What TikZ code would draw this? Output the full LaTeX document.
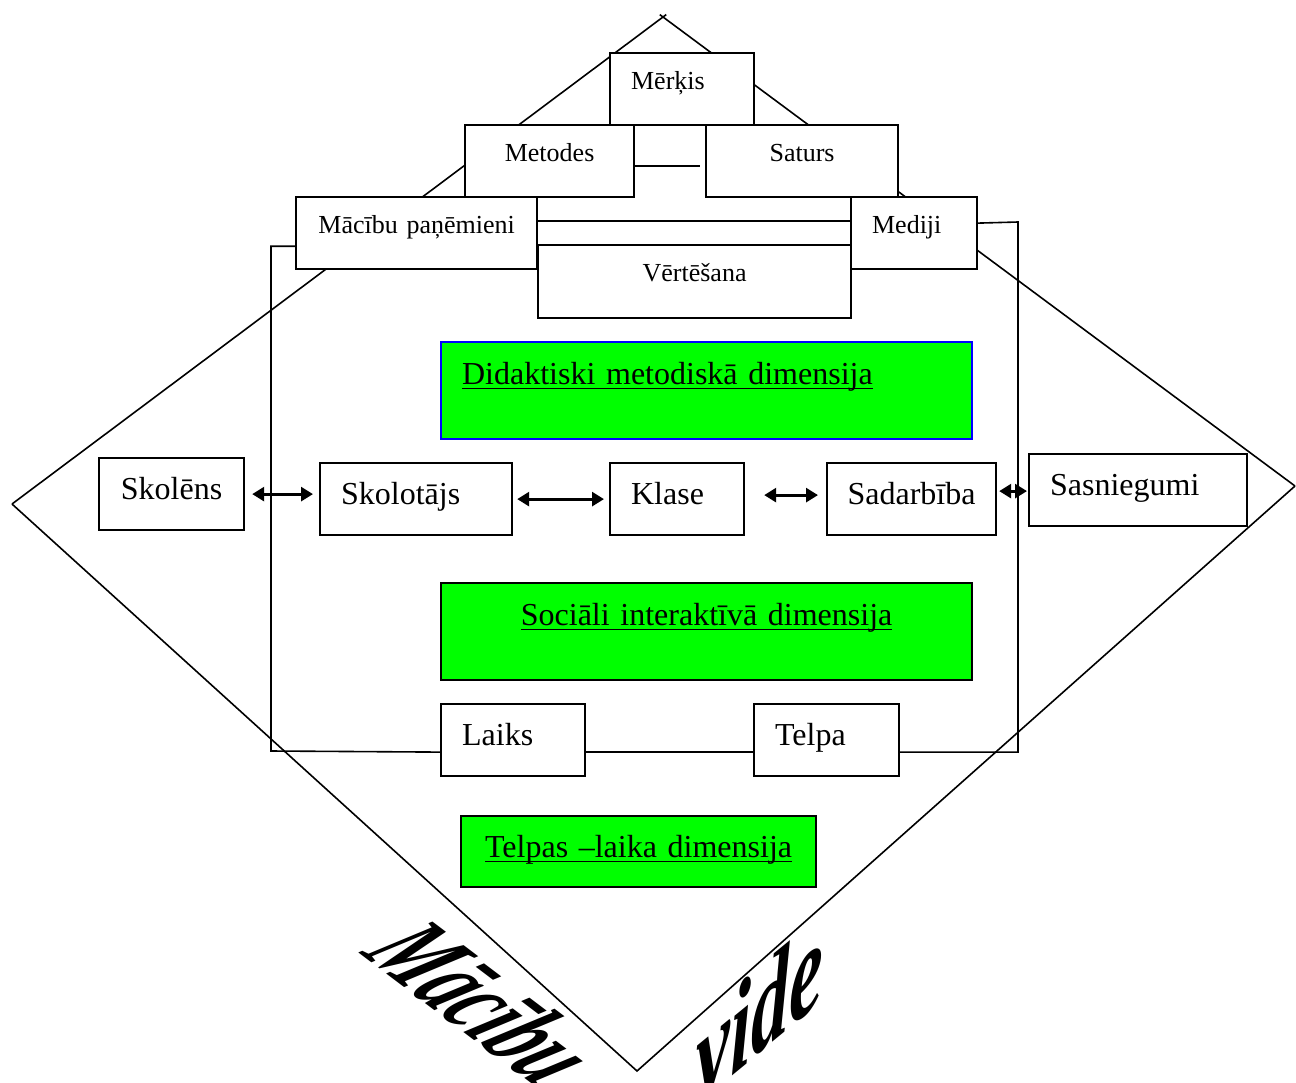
\documentclass[tikz,border=0pt]{standalone}
\usepackage{fontspec}
\setmainfont{Liberation Serif}
\usetikzlibrary{arrows.meta,positioning}
\definecolor{dimgreen}{RGB}{0,255,0}
\definecolor{dimblue}{RGB}{0,0,255}
\newcommand{\dimul}[1]{\setbox0\hbox{#1}\rlap{\rule[-2.5pt]{\wd0}{0.7pt}}\box0}

\begin{document}
\begin{tikzpicture}[x=0.5pt, y=-0.5pt, line width=0.8pt,
    >={Triangle[length=6pt,width=7pt]},
    box/.style={draw, fill=white, line width=1.1pt, anchor=north west, inner ysep=0pt},
    lbox/.style={box, inner xsep=10.5pt, align=left},
    cbox/.style={box, inner xsep=4pt, align=center},
    small/.style={font=\fontsize{13}{15}\selectfont, text height=18pt, text depth=18pt},
    big/.style={font=\fontsize{16}{19}\selectfont, text height=20.5pt, text depth=15.5pt},
    dim/.style={big, fill=dimgreen, text height=21pt, text depth=27.5pt},
    twoway/.style={<->, line width=1.4pt},
    wordart/.style={font=\fontsize{38}{38}\selectfont\bfseries\itshape, inner sep=0pt}]
\useasboundingbox (0,0) rectangle (1296,1082);

% the big diamond
\coordinate (top) at (663,17);
\coordinate (left) at (12,504);
\coordinate (bottom) at (637,1071);
\coordinate (right) at (1295,486);
\draw[shorten >=-2pt] (left) -- (top);
\draw[shorten >=-2pt] (right) -- (top);
\draw (left) -- (bottom) -- (right);

% frame corners
\coordinate (fbl) at (271,751);
\coordinate (ftr) at (1018,222);

% didactic-methodical part
\node[small, lbox, text width=51pt] (merk) at (609,52) {Mērķis};
\node[small, cbox, text width=76.5pt] (met) at (464,124) {Metodes};
\node[small, cbox, text width=88pt] (sat) at (705,124) {Saturs};
\node[small, cbox, text width=112.5pt] (pan) at (295,196) {Mācību paņēmieni};
\node[small, lbox, text width=42pt] (med) at (850,196) {Mediji};
\node[small, cbox, text width=148.5pt, text depth=18.5pt] (vert) at (537,244) {Vērtēšana};
\node[lbox, dim, draw=dimblue, text width=244.5pt] (did) at (440,341) {\dimul{Didaktiski metodiskā dimensija}};

% social-interactive part
\node[big, cbox, text width=64.5pt] (skn) at (98,457) {Skolēns};
\node[big, lbox, text width=75pt] (skt) at (319,462) {Skolotājs};
\node[big, lbox, text width=46pt] (kl) at (609,462) {Klase};
\node[big, cbox, text width=76.5pt] (sad) at (826,462) {Sadarbība};
\node[big, lbox, text width=88pt] (sas) at (1028,453) {Sasniegumi};
\node[cbox, dim, text width=257.5pt] (soc) at (440,582) {\dimul{Sociāli interaktīvā dimensija}};

% space-time part
\node[big, lbox, text width=51pt] (laiks) at (440,703) {Laiks};
\node[big, lbox, text width=51.5pt] (telpa) at (753,703) {Telpa};
\node[big, cbox, fill=dimgreen, text width=169.5pt, text depth=15pt] (tld) at (460,815) {\dimul{Telpas –laika dimensija}};

% connectors
\draw ([yshift=-2.5pt]met.east) -- ([xshift=-2.5pt,yshift=-2.5pt]sat.west);
\draw ([yshift=6pt]pan.east) -- ([yshift=6pt]med.west);
\draw ([yshift=-6pt]pan.east) -- ([yshift=-6pt]med.west);
\draw ([yshift=12pt]pan.south west) -| (fbl) -- ([yshift=-6pt]laiks.west);
\draw ([yshift=-6pt]laiks.east) -- ([yshift=-6pt]telpa.west);
\draw ([yshift=-6pt]telpa.east) -| (ftr) -- ([yshift=5pt]med.east);

\path[twoway, shorten <=3.5pt, shorten >=3pt] (skn.east) edge (skn.east -| skt.west);
\path[twoway, shorten <=2pt, shorten >=2.5pt] (skt.east) edge (kl.west);
\path[twoway, shorten <=9.5pt, shorten >=4pt] ([yshift=2pt]kl.east) edge ([yshift=2pt]sad.west);
\path[twoway, shorten <=1pt, shorten >=0.5pt] ([yshift=4pt]sad.east) edge ([yshift=4pt]sad.east -| sas.west);

% Mācību vide
\node[wordart, cm={0.74,-0.56,1.36,0.72,(0,0)}] (mac) at (484,1002) {Mācību};
\node[wordart, yslant=0.82, yscale=1.65] (vide) at (760,1010) {vide};
\end{tikzpicture}
\end{document}
